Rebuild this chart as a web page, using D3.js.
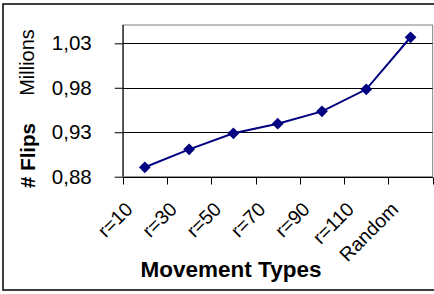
<!DOCTYPE html>
<html>
<head>
<meta charset="utf-8">
<script src="https://cdn.jsdelivr.net/npm/d3@7"></script>
<style>
  html, body { margin: 0; padding: 0; background: #fff; }
  svg { display: block; font-family: Arial, "Liberation Sans", sans-serif; }
</style>
</head>
<body>
<div id="chart"></div>
<script>
var categories = ["r=10", "r=30", "r=50", "r=70", "r=90", "r=110", "Random"];
var flips = [0.8906, 0.9108, 0.9288, 0.9396, 0.9535, 0.9783, 1.0368]; // millions
var yTicks = [0.88, 0.93, 0.98, 1.03];

var width = 434, height = 294;
var plotLeft = 122.7, plotRight = 432.7, plotTop = 25, plotBottom = 176.7;

var svg = d3.select("#chart").append("svg")
    .attr("width", width)
    .attr("height", height);

// outer chart border
svg.append("rect")
    .attr("x", 3).attr("y", 4)
    .attr("width", 450).attr("height", 286)
    .attr("fill", "none")
    .attr("stroke", "#000")
    .attr("stroke-width", 1.5);

var x = d3.scaleBand().domain(categories).range([plotLeft, plotRight]).padding(0);
var y = d3.scaleLinear().domain([0.88, 1.0506]).range([plotBottom, plotTop]);

// plot frame (gray)
svg.append("rect")
    .attr("x", plotLeft).attr("y", plotTop)
    .attr("width", plotRight - plotLeft).attr("height", plotBottom - plotTop)
    .attr("fill", "none")
    .attr("stroke", "#808080")
    .attr("stroke-width", 1);

// gridlines
svg.selectAll(".grid")
    .data(yTicks)
    .enter().append("line")
    .attr("x1", plotLeft).attr("x2", plotRight)
    .attr("y1", function(d) { return Math.round(y(d)) + 0.5; })
    .attr("y2", function(d) { return Math.round(y(d)) + 0.5; })
    .attr("stroke", "#000");

// y axis
var yAxis = svg.append("g")
    .attr("transform", "translate(" + plotLeft + ",0)")
    .call(d3.axisLeft(y).tickValues(yTicks).tickSize(8).tickPadding(23)
        .tickFormat(function(d) { return d3.format(".2f")(d).replace(".", ","); }));
yAxis.select(".domain").attr("d", "M0.5," + plotTop + "V" + plotBottom).attr("stroke", "#000");
yAxis.selectAll("text").attr("font-size", 20.5).attr("fill", "#000").attr("font-family", "Arial, 'Liberation Sans'");

// x axis
var xAxis = svg.append("g")
    .attr("transform", "translate(0," + (Math.round(plotBottom) + 0.5) + ")");
xAxis.append("line")
    .attr("x1", plotLeft).attr("x2", plotRight)
    .attr("stroke", "#000");
var bounds = categories.map(function(c) { return x(c); }).concat([plotRight]);
xAxis.selectAll(".tk")
    .data(bounds)
    .enter().append("line")
    .attr("x1", function(d) { return Math.round(d) + 0.5; })
    .attr("x2", function(d) { return Math.round(d) + 0.5; })
    .attr("y1", 0).attr("y2", 7)
    .attr("stroke", "#000");
xAxis.selectAll(".lbl")
    .data(categories)
    .enter().append("text")
    .attr("text-anchor", "end")
    .attr("font-size", 19.5)
    .attr("transform", function(d) {
        return "translate(" + (x(d) + x.bandwidth() / 2 - 11) + ",33) rotate(-45)";
    })
    .text(function(d) { return d; });

// series line
var line = d3.line()
    .x(function(d, i) { return x(categories[i]) + x.bandwidth() / 2; })
    .y(function(d) { return y(d); });

svg.append("path")
    .datum(flips)
    .attr("d", line)
    .attr("fill", "none")
    .attr("stroke", "#000080")
    .attr("stroke-width", 2);

svg.selectAll(".pt")
    .data(flips)
    .enter().append("path")
    .attr("d", d3.symbol().type(d3.symbolDiamond2).size(88))
    .attr("transform", function(d, i) {
        return "translate(" + (x(categories[i]) + x.bandwidth() / 2) + "," + y(d) + ")";
    })
    .attr("fill", "#000080");

// axis titles
svg.append("text")
    .attr("x", 231).attr("y", 276.5)
    .attr("text-anchor", "middle")
    .attr("font-size", 22.5)
    .attr("font-weight", "bold")
    .text("Movement Types");

svg.append("text")
    .attr("transform", "translate(35,155.5) rotate(-90)")
    .attr("text-anchor", "middle")
    .attr("font-size", 20.5)
    .attr("font-weight", "bold")
    .text("# Flips");

svg.append("text")
    .attr("transform", "translate(34,62.5) rotate(-90)")
    .attr("text-anchor", "middle")
    .attr("font-size", 20)
    .text("Millions");
</script>
</body>
</html>
